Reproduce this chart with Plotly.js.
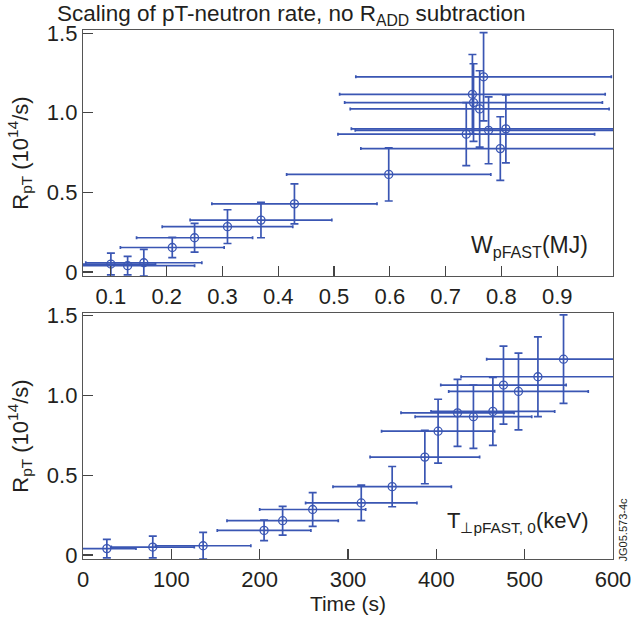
<!DOCTYPE html>
<html>
<head>
<meta charset="utf-8">
<script src="https://cdn.plot.ly/plotly-3.0.1.min.js"></script>
<style>html,body{margin:0;padding:0;background:#fff;}#chart{width:632px;height:617px;}</style>
</head>
<body>
<div id="chart"></div>
<script>
// Shared neutron rate values (10^14/s), ordered by time
const ratePT     = [0.040, 0.050, 0.058, 0.154, 0.215, 0.285, 0.326, 0.428, 0.613, 0.775, 0.890, 0.866, 0.899, 1.064, 1.024, 1.116, 1.226];
const ratePTErr  = [0.058, 0.068, 0.084, 0.064, 0.090, 0.106, 0.111, 0.126, 0.167, 0.200, 0.210, 0.198, 0.213, 0.244, 0.240, 0.250, 0.277];
// Top panel: fast-proton energy W_pFAST (MJ)
const wpFast     = [0.130, 0.100, 0.159, 0.210, 0.250, 0.309, 0.369, 0.429, 0.598, 0.798, 0.777, 0.737, 0.808, 0.750, 0.761, 0.748, 0.768];
const wpFastErr  = [0.120, 0.080, 0.104, 0.093, 0.104, 0.117, 0.127, 0.148, 0.183, 0.250, 0.239, 0.230, 0.277, 0.231, 0.232, 0.238, 0.229];
// Bottom panel: time (s)
const timeS      = [27, 79, 136, 205, 226, 260, 315, 350, 387, 402, 424, 442, 464, 476, 493, 515, 544];
const timeErr    = [33, 47, 54, 53, 63, 60, 63, 67, 62, 64, 64, 66, 70, 71, 79, 87, 87];
// Tick labels
const topXTicks  = [0.1, 0.2, 0.3, 0.4, 0.5, 0.6, 0.7, 0.8, 0.9];
const yTickVals  = [0, 0.5, 1.0, 1.5];
const yTickText  = ['0', '0.5', '1.0', '1.5'];
const timeTicks  = [0, 100, 200, 300, 400, 500, 600];

const blue = '#3a56b3';
const fam = 'Liberation Sans, Arial, sans-serif';
const ink = '#231f20';
const font = {family: fam, color: ink, size: 22};

function trace(x, xe, xa, ya) {
  return {
    type: 'scatter', mode: 'markers', x: x, y: ratePT, xaxis: xa, yaxis: ya,
    marker: {symbol: 'circle-open', size: 8, color: blue, line: {width: 1.3, color: blue}},
    error_y: {type: 'data', array: ratePTErr, visible: true, color: blue, thickness: 1.7, width: 4},
    error_x: {type: 'data', array: xe, visible: true, color: blue, thickness: 1.7, width: 1.5},
    showlegend: false, cliponaxis: true
  };
}

const axisCommon = {
  showline: true, mirror: true, linecolor: '#555', linewidth: 1.2,
  ticks: 'inside', ticklen: 10, tickcolor: '#444', tickwidth: 1.2,
  showgrid: false, zeroline: false, tickfont: {family: fam, color: ink, size: 22}
};

const yTitle = {text: 'R<sub>pT</sub> (10<sup>14</sup>/s)', font: {family: fam, color: ink, size: 22}, standoff: 12};

const layout = {
  width: 632, height: 617,
  margin: {l: 83, r: 19, t: 30, b: 58},
  paper_bgcolor: '#fff', plot_bgcolor: '#fff',
  font: font,
  title: {text: 'Scaling of pT-neutron rate, no R<sub>ADD</sub> subtraction',
          font: {family: fam, color: ink, size: 22.5},
          x: 57/632, xanchor: 'left', xref: 'container', y: 1 - 13/617, yanchor: 'middle', yref: 'container'},
  xaxis: Object.assign({}, axisCommon, {domain: [0, 1], anchor: 'y', range: [0.05, 1.0],
          tickvals: topXTicks, ticktext: topXTicks.map(v => v.toFixed(1))}),
  yaxis: Object.assign({}, axisCommon, {domain: [0.535, 1], anchor: 'x', range: [-0.025, 1.52],
          tickvals: yTickVals, ticktext: yTickText, title: yTitle}),
  xaxis2: Object.assign({}, axisCommon, {domain: [0, 1], anchor: 'y2', range: [0, 600],
          tickvals: timeTicks, title: {text: 'Time (s)', font: {family: fam, color: ink, size: 21}, standoff: 0}}),
  yaxis2: Object.assign({}, axisCommon, {domain: [0, 0.465], anchor: 'x2', range: [-0.025, 1.515],
          tickvals: yTickVals, ticktext: yTickText, title: yTitle}),
  annotations: [
    {text: 'W<sub>pFAST</sub>(MJ)', xref: 'paper', yref: 'paper', x: 0.956, y: 0.59,
     xanchor: 'right', yanchor: 'middle', showarrow: false, font: {family: fam, color: ink, size: 23}},
    {text: 'T<sub>⊥pFAST, 0</sub>(keV)', xref: 'paper', yref: 'paper', x: 0.956, y: 0.07,
     xanchor: 'right', yanchor: 'middle', showarrow: false, font: {family: fam, color: ink, size: 22}},
    {text: 'JG05.573-4c', xref: 'paper', yref: 'paper', x: 1.018, y: 0.055,
     xanchor: 'center', yanchor: 'middle', textangle: -90, showarrow: false,
     font: {family: fam, color: ink, size: 11}}
  ]
};

Plotly.newPlot('chart', [trace(wpFast, wpFastErr, 'x', 'y'), trace(timeS, timeErr, 'x2', 'y2')], layout,
  {staticPlot: true, displayModeBar: false});
</script>
</body>
</html>
